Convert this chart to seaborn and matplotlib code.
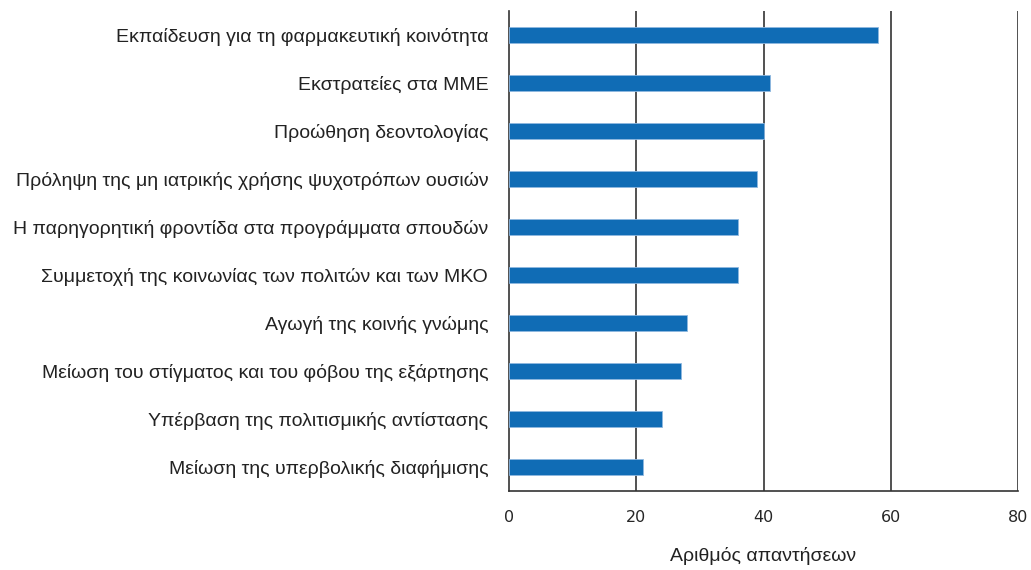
import matplotlib
matplotlib.use("Agg")
import matplotlib.pyplot as plt
import seaborn as sns
import pandas as pd
import numpy as np

categories = [
    "Εκπαίδευση για τη φαρμακευτική κοινότητα",
    "Εκστρατείες στα ΜΜΕ",
    "Προώθηση δεοντολογίας",
    "Πρόληψη της μη ιατρικής χρήσης ψυχοτρόπων ουσιών",
    "Η παρηγορητική φροντίδα στα προγράμματα σπουδών",
    "Συμμετοχή της κοινωνίας των πολιτών και των ΜΚΟ",
    "Αγωγή της κοινής γνώμης",
    "Μείωση του στίγματος και του φόβου της εξάρτησης",
    "Υπέρβαση της πολιτισμικής αντίστασης",
    "Μείωση της υπερβολικής διαφήμισης",
]
values = [58, 41, 40, 39, 36, 36, 28, 27, 24, 21]
x_ticks = [0, 20, 40, 60, 80]
x_label = "Αριθμός απαντήσεων"

sns.set_style("white")
plt.rcParams['font.family'] = ['Liberation Sans', 'DejaVu Sans']

df = pd.DataFrame({"cat": categories, "val": values})

fig = plt.figure(figsize=(10.31, 5.70), dpi=100)
ax = fig.add_axes([509/1031, 1 - 491/570, (1018-509)/1031, (491-11)/570])

sns.barplot(data=df, x="val", y="cat", orient="h", color="#106CB5",
            saturation=1, width=0.35, edgecolor="#8fb8e0", linewidth=0.6,
            ax=ax, zorder=3)

ax.set_xlim(0, 80)
ax.set_ylim(len(categories) - 0.5, -0.5)
ax.set_xticks(x_ticks)
ax.set_xticklabels([str(t) for t in x_ticks], fontsize=11.5, family=['DejaVu Sans'])
ax.tick_params(axis='x', direction='inout', length=9, width=1.2, color='#333333', pad=9)

# category labels at centers (no tick marks), tick marks at boundaries
ax.set_yticks(np.arange(len(categories)))
ax.set_yticklabels(categories, fontsize=14, color='#222222')
ax.tick_params(axis='y', which='major', length=0, pad=15)
ax.set_yticks(np.arange(len(categories) + 1) - 0.5, minor=True)
ax.tick_params(axis='y', which='minor', length=5, width=1.2, color='#333333', direction='out')

for t in x_ticks[1:]:
    ax.axvline(t, color='#222222', linewidth=1.1, zorder=1)

for s in ['top', 'right']:
    ax.spines[s].set_visible(False)
for s in ['left', 'bottom']:
    ax.spines[s].set_visible(True)
    ax.spines[s].set_color('#333333')
    ax.spines[s].set_linewidth(1.2)

ax.set_ylabel("")
ax.set_xlabel(x_label, fontsize=14, color='#222222', labelpad=16)

fig.savefig("out.png", dpi=100)
